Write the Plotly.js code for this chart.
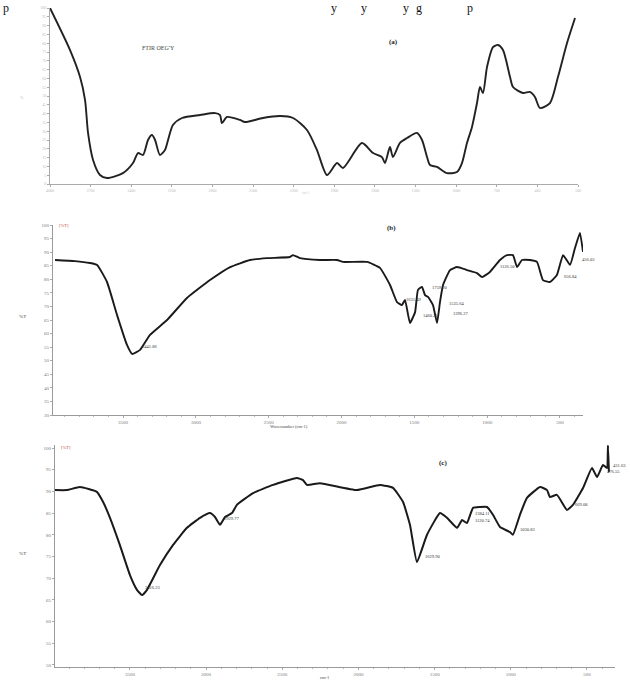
<!DOCTYPE html>
<html><head><meta charset="utf-8">
<script src="https://cdn.plot.ly/plotly-3.0.1.min.js"></script>
<style>html,body{margin:0;padding:0;background:#fff}#chart{width:630px;height:682px}</style>
</head><body><div id="chart"></div>
<script>
// ---- Panel (a) ----
const aWn=[4000,3852,3778,3741,3719,3682,3631,3579,3461,3387,3350,3313,3276,3247,3224,3188,3151,3128,3092,3025,2892,2781,2744,2730,2693,2597,2560,2427,2301,2205,2102,2028,1954,1880,1836,1696,1614,1548,1526,1489,1467,1415,1363,1289,1252,1215,1193,1142,1068,994,957,920,883,846,824,802,772,728,691,654,602,580,506,455,418,381,307,248,181,122];
const aT=[100,76.1,60.8,47.7,29.0,13.6,5.1,3.4,6.2,11.9,17.6,16.5,25.0,27.8,25.0,16.5,19.3,25.0,33.5,37.5,39.2,40.3,39.2,34.6,38.1,36.4,35.2,37.5,38.6,37.5,30.7,19.3,5.1,11.9,9.1,23.3,17.6,15.3,11.9,21.0,15.3,23.3,26.1,29.0,25.0,15.3,10.8,9.7,6.2,6.8,11.9,23.3,32.4,46.0,55.1,51.7,66.5,77.8,79.0,76.1,60.8,55.1,51.7,52.3,49.4,43.2,46.0,60.8,80.1,94.3];
const aXTicks=[4000,3700,3400,3100,2800,2500,2200,1900,1600,1300,1000,700,400,100];
// ---- Panel (b) ----
const bWn=[3967,3830,3727,3678,3610,3541,3473,3438,3383,3315,3198,3061,2903,2765,2628,2511,2354,2333,2285,2148,2031,1990,1825,1736,1667,1619,1585,1564,1530,1495,1475,1447,1427,1406,1372,1344,1324,1303,1255,1207,1138,1070,1035,981,912,864,823,795,761,706,658,617,569,521,479,431,397,363,342];
const bT=[87.1,86.7,86.0,85.3,79.0,66.8,55.8,52.5,54.0,59.5,65.0,73.1,79.7,84.5,87.1,87.8,88.2,88.9,87.8,87.1,87.1,86.4,86.4,84.2,77.9,71.6,70.5,72.4,63.9,67.9,76.1,77.2,74.2,73.5,70.5,63.9,71.6,77.9,83.4,84.5,83.4,82.3,80.8,82.7,87.1,88.9,88.9,84.5,87.1,87.1,86.4,79.7,79.0,81.6,88.9,85.3,91.5,97.1,90.1];
const bXTicks=[3500,3000,2500,2000,1500,1000,500];
const bYTicks=[30,35,40,45,50,55,60,65,70,75,80,85,90,95,100];
const bPeaks=['3441.86','1759.20','1631.49','1535.64','1460.21','1396.27','1126.50','656.84','456.03'];
// ---- Panel (c) ----
const cWn=[3992,3914,3828,3717,3677,3631,3566,3500,3454,3421,3388,3303,3218,3126,3040,2975,2942,2909,2876,2830,2798,2692,2561,2404,2364,2338,2253,2010,1859,1773,1708,1662,1616,1550,1465,1419,1353,1320,1288,1248,1202,1156,1117,1071,1005,986,940,894,808,762,743,697,631,592,526,467,434,395,369,362,356];
const cT=[90.3,90.3,91.0,89.9,87.6,83.9,77.6,70.7,67.3,66.1,67.3,73.0,77.6,81.6,83.9,85.0,84.1,82.3,84.1,85.0,86.9,89.6,91.5,93.1,92.6,91.5,91.9,90.3,91.5,90.8,87.6,82.3,73.7,80.0,85.0,83.9,81.6,83.4,82.7,86.2,86.4,86.4,84.6,81.8,80.6,80.0,84.6,88.5,91.0,90.3,88.7,89.2,85.7,86.9,90.8,95.4,93.3,96.1,95.4,100.6,94.5];
const cXTicks=[4000,3500,3000,2500,2000,1500,1000,500];
const cYTicks=[50,55,60,65,70,75,80,85,90,95,100];
const cPeaks=['3416.23','2929.77','1629.90','1384.11','1120.74','1030.83','669.08','431.63','476.55'];

const W=630,H=682;
const px=x=>x/W, py=y=>1-y/H;
const serif='"Liberation Serif", "DejaVu Serif", serif';

function ax(extra){
  return Object.assign({showgrid:false,zeroline:false,showline:true,linecolor:'#9a9a9a',linewidth:1,
    ticks:'outside',ticklen:2,tickcolor:'#aaa',tickwidth:1,
    tickfont:{size:5,color:'#777',family:serif},fixedrange:true},extra);
}

const data=[
  {x:aWn,y:aT,xaxis:'x',yaxis:'y',mode:'lines',line:{color:'#222',width:1.9,shape:'spline',smoothing:0.7},hoverinfo:'skip'},
  {x:bWn,y:bT,xaxis:'x2',yaxis:'y2',mode:'lines',line:{color:'#1a1a1a',width:1.9,shape:'spline',smoothing:0.4},hoverinfo:'skip'},
  {x:cWn,y:cT,xaxis:'x3',yaxis:'y3',mode:'lines',line:{color:'#1a1a1a',width:2,shape:'spline',smoothing:0.4},hoverinfo:'skip'}
];

const layout={
  width:W,height:H,margin:{l:0,r:0,t:0,b:0},paper_bgcolor:'#fff',plot_bgcolor:'#fff',showlegend:false,
  xaxis:ax({domain:[px(50),px(578)],range:[4000,100],anchor:'y',tickvals:aXTicks,tickfont:{size:4,color:'#bbb',family:serif},linecolor:'#aaa'}),
  yaxis:ax({domain:[py(184),py(8)],range:[0,100],anchor:'x',dtick:5,tickfont:{size:4,color:'#bbb',family:serif},linecolor:'#aaa'}),
  xaxis2:ax({domain:[px(53),px(583)],range:[3981,342],anchor:'y2',tickvals:bXTicks,minor:{ticks:'outside',ticklen:1,dtick:100,tickcolor:'#bbb'}}),
  yaxis2:ax({domain:[py(415),py(225)],range:[30,100],anchor:'x2',tickvals:bYTicks}),
  xaxis3:ax({domain:[px(55),px(615)],range:[3992,316],anchor:'y3',tickvals:cXTicks,minor:{ticks:'outside',ticklen:1,dtick:100,tickcolor:'#bbb'}}),
  yaxis3:ax({domain:[py(667),py(445)],range:[49.5,100.7],anchor:'x3',tickvals:cYTicks}),
  annotations:[]
};

const A=layout.annotations;
function txt(t,x,y,o){A.push(Object.assign({text:t,x:px(x),y:py(y),xref:'paper',yref:'paper',showarrow:false,
  font:{size:5,color:'#333',family:serif},xanchor:'left',yanchor:'middle'},o||{}));}

// line of document text at the very top (only its lower part shows in the reference)
[['p',2],['y',330],['y',360],['y',402],['g',415],['p',466]].forEach(([t,x])=>
  A.push({text:t,x:px(x),y:1,xref:'paper',yref:'paper',showarrow:false,xanchor:'left',yanchor:'top',
    font:{size:12,color:'#111',family:serif},borderpad:0}));

// (a)
txt('FTIR OEG\'Y',140,48,{font:{size:6,color:'#444',family:serif}});
txt('<b>(a)</b>',387,42,{font:{size:7,color:'#222',family:serif}});
txt('%',18,98,{font:{size:4,color:'#bbb',family:serif}});
txt('cm-1',300,193,{font:{size:3.5,color:'#ccc',family:serif}});
// (b)
txt('<b>(b)</b>',385,228,{font:{size:7,color:'#222',family:serif}});
txt('%T',17,316,{font:{size:5,color:'#444',family:serif}});
txt('[%T]',57,226,{font:{size:4.5,color:'#c0504d',family:serif}});
txt('Wavenumber (cm-1)',268,426,{font:{size:4.5,color:'#444',family:serif}});
const bPos=[[140,346],[430,287],[404,299],[447,303],[421,315],[451,313],[498,266],[562,276],[580,259]];
bPeaks.forEach((t,i)=>txt(t,bPos[i][0],bPos[i][1],{font:{size:4.5,color:'#333',family:serif}}));
// (c)
txt('<b>(c)</b>',437,463,{font:{size:7,color:'#222',family:serif}});
txt('%T',17,553,{font:{size:5,color:'#444',family:serif}});
txt('[%T]',59,447,{font:{size:4.5,color:'#c0504d',family:serif}});
txt('cm-1',318,677,{font:{size:4.5,color:'#444',family:serif}});
const cPos=[[143,587],[222,518],[423,556],[473,513],[473,520],[518,529],[573,504],[611,466],[605,471]];
cPeaks.forEach((t,i)=>txt(t,cPos[i][0],cPos[i][1],{font:{size:4.5,color:'#333',family:serif}}));

Plotly.newPlot('chart',data,layout,{displayModeBar:false,staticPlot:true});
</script>
</body></html>
